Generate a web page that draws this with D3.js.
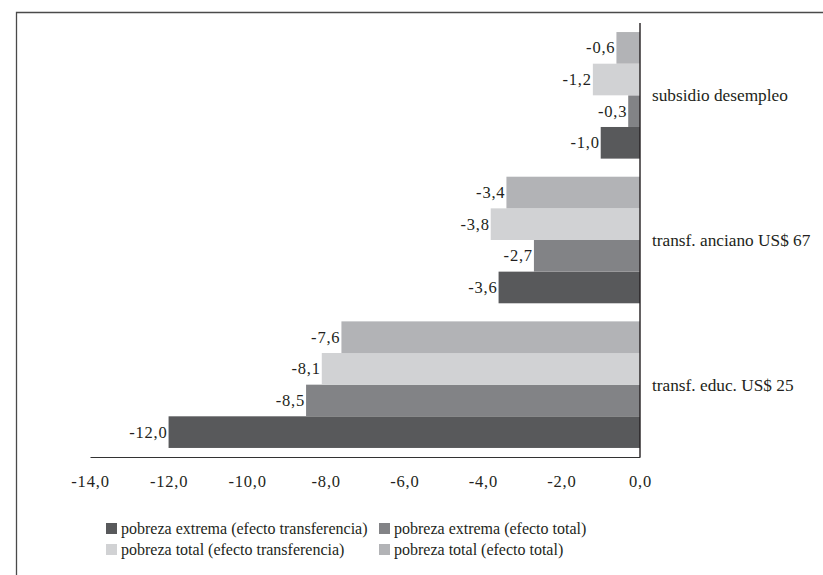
<!DOCTYPE html>
<html>
<head>
<meta charset="utf-8">
<script src="https://cdn.jsdelivr.net/npm/d3@7"></script>
<style>
  html, body { margin: 0; padding: 0; background: #fff; }
  svg { display: block; }
</style>
</head>
<body>
<svg id="chart" width="823" height="575"></svg>
<script>
// Program categories, top to bottom
const categories = ["subsidio desempleo", "transf. anciano US$ 67", "transf. educ. US$ 25"];

// Series (legend order) and their values per category, in percentage points
const seriesNames = [
  "pobreza extrema (efecto transferencia)",
  "pobreza extrema (efecto total)",
  "pobreza total (efecto transferencia)",
  "pobreza total (efecto total)"
];
const extremaTransferencia = [-1.0, -3.6, -12.0];
const extremaTotal        = [-0.3, -2.7, -8.5];
const totalTransferencia  = [-1.2, -3.8, -8.1];
const totalTotal          = [-0.6, -3.4, -7.6];
const seriesValues = [extremaTransferencia, extremaTotal, totalTransferencia, totalTotal];

const xTicks = [-14, -12, -10, -8, -6, -4, -2, 0];
const colors = ["#58595b", "#828386", "#d1d2d4", "#b2b3b6"];

const FONT = "Liberation Serif, DejaVu Serif, Times New Roman, Times, serif";
const INK = "#231f20";

const svg = d3.select("#chart").attr("font-family", FONT);
const fmt = v => d3.format(".1f")(v).replace(".", ",").replace("−", "-");

// Outer frame (top and left edges)
svg.append("path")
  .attr("d", "M16.5,575V12.5H823")
  .attr("fill", "none")
  .attr("stroke", "#4a4a4a")
  .attr("stroke-width", 1.3);

const x = d3.scaleLinear().domain([-14, 0]).range([90, 640]);
const y = d3.scaleBand().domain(categories).range([23, 457])
  .paddingInner(0.125).paddingOuter(0.0625);
// Within each group, the last legend entry is drawn on top
const yInner = d3.scaleBand().domain(seriesNames.slice().reverse()).range([0, y.bandwidth()]);

const rows = [];
categories.forEach((c, ci) => {
  seriesNames.forEach((s, si) => {
    rows.push({ category: c, series: s, value: seriesValues[si][ci], color: colors[si] });
  });
});

svg.append("g").selectAll("rect").data(rows).join("rect")
  .attr("x", d => x(d.value))
  .attr("y", d => y(d.category) + yInner(d.series))
  .attr("width", d => x(0) - x(d.value))
  .attr("height", yInner.bandwidth())
  .attr("fill", d => d.color);

// Value labels at the end of each bar
svg.append("g").selectAll("text").data(rows).join("text")
  .attr("x", d => x(d.value) - 1)
  .attr("y", d => y(d.category) + yInner(d.series) + yInner.bandwidth() / 2)
  .attr("dy", "0.34em")
  .attr("text-anchor", "end")
  .attr("font-family", FONT)
  .attr("font-size", 16.5)
  .attr("letter-spacing", 0.8)
  .attr("fill", INK)
  .text(d => fmt(d.value));

// X axis
const xAxis = svg.append("g")
  .attr("transform", `translate(0,${y.range()[1]})`)
  .call(d3.axisBottom(x).tickValues(xTicks).tickSize(0).tickPadding(18).tickFormat(fmt))
  .attr("font-family", FONT)
  .attr("font-size", 16.5);
xAxis.select(".domain").attr("stroke", "#333").attr("stroke-width", 1.2);
xAxis.selectAll(".tick text")
  .attr("letter-spacing", 0.8)
  .attr("fill", INK);

// Zero line
svg.append("line")
  .attr("x1", x(0)).attr("x2", x(0))
  .attr("y1", y.range()[0]).attr("y2", y.range()[1])
  .attr("stroke", INK).attr("stroke-width", 1.4);

// Category labels to the right of the zero line
svg.append("g").selectAll("text").data(categories).join("text")
  .attr("x", x(0) + 12)
  .attr("y", d => y(d) + y.bandwidth() / 2)
  .attr("dy", "0.34em")
  .attr("font-family", FONT)
  .attr("font-size", 17.3)
  .attr("fill", INK)
  .text(d => d);

// Legend, two columns by two rows
const legendX = [106, 379];
const legendY = [523, 544];
const legend = svg.append("g");
seriesNames.forEach((s, i) => {
  const col = i % 2, row = Math.floor(i / 2);
  const g = legend.append("g").attr("transform", `translate(${legendX[col]},${legendY[row]})`);
  g.append("rect").attr("width", 11).attr("height", 11).attr("fill", colors[i]);
  g.append("text").attr("x", 15).attr("y", 10.5)
    .attr("font-family", FONT).attr("font-size", 16).attr("fill", INK)
    .text(s);
});
</script>
</body>
</html>
